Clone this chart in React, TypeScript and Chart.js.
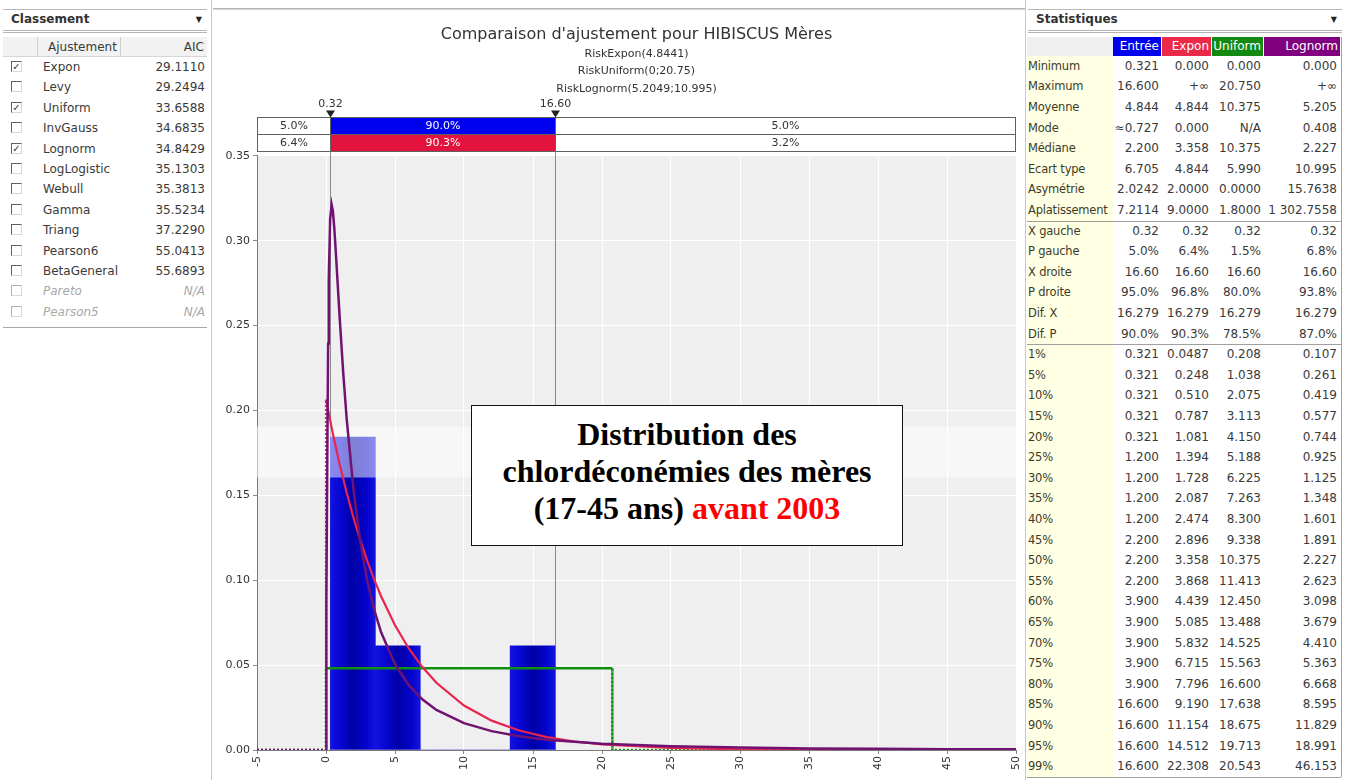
import React, { useEffect, useRef } from "react";
import { Chart, registerables } from "chart.js";

Chart.register(...registerables);

// ------------------------------------------------------------------ data
const binEdges = [0.321, 3.577, 6.833, 10.089, 13.344, 16.6];
const binDensity = [0.1843, 0.0614, 0, 0, 0.0614];

const exponX = [-5, 0, 0, 0.5, 1, 1.5, 2, 2.5, 3, 3.5, 4, 5, 6, 7, 8, 10, 12, 14, 16, 18, 20, 25, 30, 35, 40, 45, 50];
const exponY = [0, 0, 0.2064, 0.1862, 0.1679, 0.1515, 0.1366, 0.1232, 0.1111, 0.1002, 0.0904, 0.0735, 0.0598, 0.0487, 0.0396, 0.0262, 0.0173, 0.0115, 0.0076, 0.005, 0.0033, 0.0012, 0.0004, 0.00015, 0.00005, 0.00002, 0.00001];

const lognX = [-5, 0, 0.01, 0.02, 0.05, 0.1, 0.15, 0.2, 0.3, 0.408, 0.5, 0.6, 0.7, 0.85, 1, 1.25, 1.5, 2, 2.5, 3, 3.5, 4, 5, 6, 7, 8, 10, 12, 14, 16, 20, 25, 30, 35, 40, 45, 50];
const lognY = [0, 0, 0.0056, 0.0221, 0.0879, 0.1797, 0.2394, 0.2767, 0.3126, 0.3213, 0.3174, 0.3075, 0.2948, 0.2741, 0.2535, 0.222, 0.1949, 0.1526, 0.122, 0.0994, 0.0824, 0.0692, 0.0505, 0.0382, 0.0297, 0.0236, 0.0158, 0.0111, 0.0081, 0.0061, 0.0037, 0.0022, 0.0014, 0.0009, 0.0007, 0.0005, 0.0004];

const unifX = [-5, 0, 0, 20.75, 20.75, 50];
const unifY = [0, 0, 0.0482, 0.0482, 0, 0];

const markerValues = [0.32, 16.6];
const markerLabels = ["0.32", "16.60"];
const entreeBand = ["5.0%", "90.0%", "5.0%"];
const exponBand = ["6.4%", "90.3%", "3.2%"];
const highlightBand = [0.1605, 0.1906];

const xMin = -5;
const xMax = 50;
const xStep = 5;
const yMin = 0;
const yMax = 0.35;
const yStep = 0.05;

const chartTitle = "Comparaison d'ajustement pour HIBISCUS Mères";
const chartSubtitle = ["RiskExpon(4.8441)", "RiskUniform(0;20.75)", "RiskLognorm(5.2049;10.995)"];

const fitNames = ["Expon", "Levy", "Uniform", "InvGauss", "Lognorm", "LogLogistic", "Webull", "Gamma", "Triang", "Pearson6", "BetaGeneral", "Pareto", "Pearson5"];
const fitAIC = ["29.1110", "29.2494", "33.6588", "34.6835", "34.8429", "35.1303", "35.3813", "35.5234", "37.2290", "55.0413", "55.6893", "N/A", "N/A"];
const fitChecked = [true, false, true, false, true, false, false, false, false, false, false, false, false];
const fitDisabled = [false, false, false, false, false, false, false, false, false, false, false, true, true];

const statLabels = ["Minimum", "Maximum", "Moyenne", "Mode", "Médiane", "Ecart type", "Asymétrie", "Aplatissement", "X gauche", "P gauche", "X droite", "P droite", "Dif. X", "Dif. P"];
const pctLabels = ["1%", "5%", "10%", "15%", "20%", "25%", "30%", "35%", "40%", "45%", "50%", "55%", "60%", "65%", "70%", "75%", "80%", "85%", "90%", "95%", "99%"];

const entreeStats = ["0.321", "16.600", "4.844", "≈0.727", "2.200", "6.705", "2.0242", "7.2114", "0.32", "5.0%", "16.60", "95.0%", "16.279", "90.0%"];
const exponStats = ["0.000", "+∞", "4.844", "0.000", "3.358", "4.844", "2.0000", "9.0000", "0.32", "6.4%", "16.60", "96.8%", "16.279", "90.3%"];
const unifStats = ["0.000", "20.750", "10.375", "N/A", "10.375", "5.990", "0.0000", "1.8000", "0.32", "1.5%", "16.60", "80.0%", "16.279", "78.5%"];
const lognStats = ["0.000", "+∞", "5.205", "0.408", "2.227", "10.995", "15.7638", "1 302.7558", "0.32", "6.8%", "16.60", "93.8%", "16.279", "87.0%"];

const entreePct = ["0.321", "0.321", "0.321", "0.321", "0.321", "1.200", "1.200", "1.200", "1.200", "2.200", "2.200", "2.200", "3.900", "3.900", "3.900", "3.900", "3.900", "16.600", "16.600", "16.600", "16.600"];
const exponPct = ["0.0487", "0.248", "0.510", "0.787", "1.081", "1.394", "1.728", "2.087", "2.474", "2.896", "3.358", "3.868", "4.439", "5.085", "5.832", "6.715", "7.796", "9.190", "11.154", "14.512", "22.308"];
const unifPct = ["0.208", "1.038", "2.075", "3.113", "4.150", "5.188", "6.225", "7.263", "8.300", "9.338", "10.375", "11.413", "12.450", "13.488", "14.525", "15.563", "16.600", "17.638", "18.675", "19.713", "20.543"];
const lognPct = ["0.107", "0.261", "0.419", "0.577", "0.744", "0.925", "1.125", "1.348", "1.601", "1.891", "2.227", "2.623", "3.098", "3.679", "4.410", "5.363", "6.668", "8.595", "11.829", "18.991", "46.153"];

const statHeaders = ["Entrée", "Expon", "Uniform", "Lognorm"];

// ------------------------------------------------------------------ styles
const FONT = '"DejaVu Sans", "Noto Sans", sans-serif';
const BLUE = "#0000f0";
const RED = "#e2143e";
const GREEN = "#109010";
const PURPLE = "#800080";

function FitChart() {
  const ref = useRef<HTMLCanvasElement>(null);
  useEffect(() => {
    const canvas = ref.current!;
    Chart.defaults.font.family = FONT;
    const pts = (xs: number[], ys: number[]) => xs.map((x, i) => ({ x, y: ys[i] }));
    const centers = binDensity.map((_, i) => (binEdges[i] + binEdges[i + 1]) / 2);
    const dash = (c: any) =>
      c.p0.parsed.x === c.p1.parsed.x || (c.p0.parsed.y === 0 && c.p1.parsed.y === 0) ? [2, 2] : undefined;

    const decor = {
      id: "fitDecor",
      beforeDraw(chart: any) {
        const { ctx, chartArea: a } = chart;
        ctx.save();
        ctx.fillStyle = "#efefef";
        ctx.fillRect(a.left, a.top, a.right - a.left, a.bottom - a.top);
        ctx.restore();
      },
      beforeDatasetsDraw(chart: any) {
        const { ctx, chartArea: a, scales } = chart;
        ctx.save();
        ctx.strokeStyle = "#8a8a8a";
        ctx.lineWidth = 1;
        markerValues.forEach((v) => {
          const x = Math.round(scales.x.getPixelForValue(v)) + 0.5;
          ctx.beginPath();
          ctx.moveTo(x, a.top);
          ctx.lineTo(x, a.bottom);
          ctx.stroke();
        });
        ctx.restore();
      },
      afterDatasetDraw(chart: any, args: any) {
        if (args.index !== 0) return;
        const { ctx, chartArea: a, scales } = chart;
        const y1 = scales.y.getPixelForValue(highlightBand[1]);
        const y2 = scales.y.getPixelForValue(highlightBand[0]);
        ctx.save();
        ctx.fillStyle = "rgba(255,255,255,0.5)";
        ctx.fillRect(a.left, y1, a.right - a.left, y2 - y1);
        ctx.restore();
      },
      afterDraw(chart: any) {
        const { ctx, chartArea: a, scales } = chart;
        const x1 = Math.round(scales.x.getPixelForValue(markerValues[0])) + 0.5;
        const x2 = Math.round(scales.x.getPixelForValue(markerValues[1])) + 0.5;
        const L = Math.round(a.left) + 0.5;
        const R = Math.round(a.right) - 0.5;
        const rowH = 17;
        const top0 = Math.round(a.top) - 39 + 0.5;
        const rows: [string[], string][] = [
          [entreeBand, BLUE],
          [exponBand, RED],
        ];
        ctx.save();
        ctx.font = `11px ${FONT}`;
        ctx.textAlign = "center";
        ctx.textBaseline = "middle";
        rows.forEach(([labels, color], r) => {
          const y = top0 + r * rowH;
          ctx.fillStyle = "#ffffff";
          ctx.fillRect(L, y, R - L, rowH);
          ctx.fillStyle = color;
          ctx.fillRect(x1, y, x2 - x1, rowH);
          ctx.strokeStyle = "#606060";
          ctx.lineWidth = 1;
          ctx.strokeRect(L, y, R - L, rowH);
          ctx.beginPath();
          ctx.moveTo(x1, y);
          ctx.lineTo(x1, y + rowH);
          ctx.moveTo(x2, y);
          ctx.lineTo(x2, y + rowH);
          ctx.stroke();
          const cy = y + rowH / 2 + 0.5;
          ctx.fillStyle = "#333";
          ctx.fillText(labels[0], (L + x1) / 2, cy);
          ctx.fillText(labels[2], (x2 + R) / 2, cy);
          ctx.fillStyle = "#ffffff";
          ctx.fillText(labels[1], (x1 + x2) / 2, cy);
        });
        ctx.strokeStyle = "#8a8a8a";
        [x1, x2].forEach((x) => {
          ctx.beginPath();
          ctx.moveTo(x, top0 + 2 * rowH);
          ctx.lineTo(x, a.top);
          ctx.stroke();
        });
        [x1, x2].forEach((x, i) => {
          ctx.fillStyle = "#222";
          ctx.beginPath();
          ctx.moveTo(x - 4.5, top0 - 7);
          ctx.lineTo(x + 4.5, top0 - 7);
          ctx.lineTo(x, top0);
          ctx.closePath();
          ctx.fill();
          ctx.fillStyle = "#333";
          ctx.fillText(markerLabels[i], x, top0 - 13);
        });
        ctx.restore();
      },
    };

    const chart = new Chart(canvas, {
      type: "bar",
      data: {
        datasets: [
          {
            type: "bar",
            label: "Entrée",
            data: centers.map((x, i) => ({ x, y: binDensity[i] })),
            backgroundColor: (c: any) => {
              const ch = c.chart;
              const xs = ch.scales && ch.scales.x;
              if (!ch.chartArea || !xs || c.type !== "data" || !c.raw) return "#0000c8";
              const i = c.dataIndex;
              const l = xs.getPixelForValue(binEdges[i]);
              const r = xs.getPixelForValue(binEdges[i + 1]);
              const g = ch.ctx.createLinearGradient(l, 0, r, 0);
              g.addColorStop(0, "#1212e2");
              g.addColorStop(0.25, "#0606d0");
              g.addColorStop(0.5, "#0000a6");
              g.addColorStop(0.8, "#0404cc");
              g.addColorStop(1, "#1414e0");
              return g;
            },
            borderWidth: 0,
            barPercentage: 1,
            categoryPercentage: 1,
            grouped: false,
            order: 4,
          } as any,
          {
            type: "line",
            label: "Uniform",
            data: pts(unifX, unifY),
            borderColor: GREEN,
            borderWidth: 2.5,
            pointRadius: 0,
            segment: { borderDash: dash },
            order: 3,
          } as any,
          {
            type: "line",
            label: "Expon",
            data: pts(exponX, exponY),
            borderColor: "#e8244e",
            borderWidth: 2.2,
            pointRadius: 0,
            segment: { borderDash: dash },
            order: 2,
          } as any,
          {
            type: "line",
            label: "Lognorm",
            data: pts(lognX, lognY),
            borderColor: "#701272",
            borderWidth: 2.5,
            pointRadius: 0,
            segment: { borderDash: dash },
            order: 1,
          } as any,
        ],
      },
      options: {
        animation: false,
        responsive: false,
        maintainAspectRatio: false,
        layout: { padding: { left: 0, right: 9, top: 0, bottom: 0 } },
        plugins: {
          legend: { display: false },
          tooltip: { enabled: false },
          title: {
            display: true,
            text: chartTitle,
            fullSize: false,
            color: "#333",
            font: { family: FONT, size: 16, weight: "normal", lineHeight: 1.2 },
            padding: { top: 25, bottom: 0 },
          },
          subtitle: {
            display: true,
            text: chartSubtitle,
            fullSize: false,
            color: "#333",
            font: { family: FONT, size: 11, weight: "normal", lineHeight: 1.6 },
            padding: { top: 1, bottom: 57.8 },
          },
        },
        scales: {
          x: {
            type: "linear",
            min: xMin,
            max: xMax,
            offset: false,
            ticks: { stepSize: xStep, minRotation: 90, maxRotation: 90, color: "#333", font: { size: 11 }, padding: 2 },
            grid: { color: "#ffffff", lineWidth: 1, tickColor: "#8a8a8a", tickLength: 4, offset: false },
            border: { display: true, color: "#7a7a7a" },
            afterFit: (s: any) => {
              s.height = 30;
              s.paddingLeft = 0;
              s.paddingRight = 0;
            },
          },
          y: {
            type: "linear",
            min: yMin,
            max: yMax,
            ticks: { stepSize: yStep, color: "#333", font: { size: 11 }, padding: 3, callback: (v: any) => Number(v).toFixed(2) },
            grid: { color: "#ffffff", lineWidth: 1, tickColor: "#8a8a8a", tickLength: 4 },
            border: { display: true, color: "#7a7a7a" },
            afterFit: (s: any) => {
              s.width = 44;
              s.paddingTop = 0;
              s.paddingBottom = 0;
            },
          },
        },
      } as any,
      plugins: [decor],
    });
    return () => chart.destroy();
  }, []);
  return (
    <canvas
      ref={ref}
      width={812}
      height={780}
      style={{ position: "absolute", left: 213, top: 0, width: 812, height: 780 }}
    />
  );
}

function CheckBox({ checked, disabled }: { checked: boolean; disabled: boolean }) {
  return (
    <span
      style={{
        position: "absolute",
        left: 11,
        top: 4,
        width: 11,
        height: 11,
        boxSizing: "border-box",
        borderTop: `1px solid ${disabled ? "#b0b0b0" : "#606060"}`,
        borderLeft: `1px solid ${disabled ? "#b0b0b0" : "#606060"}`,
        borderRight: "1px solid #d8d8d8",
        borderBottom: "1px solid #d8d8d8",
        background: "#fff",
        fontSize: 10,
        lineHeight: "9px",
        textAlign: "center",
        color: "#333",
        fontWeight: "bold",
      }}
    >
      {checked ? "✓" : ""}
    </span>
  );
}

function PanelHeader({ title, width }: { title: string; width: number }) {
  return (
    <div
      style={{
        position: "absolute",
        left: 3,
        top: 9,
        width,
        height: 24,
        boxSizing: "border-box",
        borderTop: "1px solid #b8b8b8",
        borderBottom: "3px double #b4b4b4",
        background: "#fff",
      }}
    >
      <span style={{ position: "absolute", left: 8, top: 2, fontWeight: "bold", color: "#333", fontSize: 12 }}>{title}</span>
      <span style={{ position: "absolute", right: 5, top: 5, fontSize: 8, color: "#222" }}>▼</span>
    </div>
  );
}

function LeftPanel() {
  const rowH = 20.4;
  return (
    <div style={{ position: "absolute", left: 0, top: 0, width: 213, height: 780, background: "#fff", font: `12px ${FONT}`, color: "#3a3a3a" }}>
      <PanelHeader title="Classement" width={204} />
      <div style={{ position: "absolute", left: 3, top: 37, width: 204, height: 20, background: "#f2f2f2", borderBottom: "1px solid #d6d6d6", boxSizing: "border-box" }}>
        <div style={{ position: "absolute", left: 34, top: 0, width: 1, height: 19, background: "#d0d0d0" }} />
        <div style={{ position: "absolute", left: 117, top: 0, width: 1, height: 19, background: "#d0d0d0" }} />
        <span style={{ position: "absolute", left: 45, top: 3 }}>Ajustement</span>
        <span style={{ position: "absolute", right: 3, top: 3 }}>AIC</span>
      </div>
      {fitNames.map((n, i) => (
        <div key={n} style={{ position: "absolute", left: 0, top: 57 + i * rowH, width: 213, height: rowH }}>
          <CheckBox checked={fitChecked[i]} disabled={fitDisabled[i]} />
          <span style={{ position: "absolute", left: 43, top: 3, fontStyle: fitDisabled[i] ? "italic" : "normal", color: fitDisabled[i] ? "#a8a8a8" : "#3a3a3a" }}>{n}</span>
          <span style={{ position: "absolute", right: 8, top: 3, fontStyle: fitDisabled[i] ? "italic" : "normal", color: fitDisabled[i] ? "#a8a8a8" : "#3a3a3a" }}>{fitAIC[i]}</span>
        </div>
      ))}
      <div style={{ position: "absolute", left: 3, top: 327, width: 204, height: 1, background: "#a8a8a8" }} />
      <div style={{ position: "absolute", left: 211, top: 0, width: 1, height: 780, background: "#c8c8c8" }} />
    </div>
  );
}

function RightPanel() {
  const rowH = 20.6;
  const top0 = 55.7;
  const labels = [...statLabels, ...pctLabels];
  const cols = [
    [...entreeStats, ...entreePct],
    [...exponStats, ...exponPct],
    [...unifStats, ...unifPct],
    [...lognStats, ...lognPct],
  ];
  const colRight = [134, 184, 236, 312];
  const headCells = [
    { l: 88, r: 136, bg: BLUE },
    { l: 137, r: 186, bg: "#ea2a48" },
    { l: 187, r: 238, bg: "#128a12" },
    { l: 239, r: 315, bg: PURPLE },
  ];
  const total = labels.length;
  return (
    <div style={{ position: "absolute", left: 1025, top: 0, width: 321, height: 780, background: "#fff", font: `12px ${FONT}`, color: "#3a3a3a" }}>
      <PanelHeader title="Statistiques" width={314} />
      <div style={{ position: "absolute", left: 2, top: 37, width: 86, height: 19, background: "#efefef" }} />
      {headCells.map((h, i) => (
        <div key={i} style={{ position: "absolute", left: h.l, top: 37, width: h.r - h.l, height: 19, background: h.bg, color: "#fff", textAlign: "right", lineHeight: "19px", paddingRight: 2, boxSizing: "border-box" }}>
          {statHeaders[i]}
        </div>
      ))}
      <div style={{ position: "absolute", left: 2, top: 56, width: 86, height: total * rowH, background: "#ffffe4" }} />
      {labels.map((l, i) => (
        <div key={l + i} style={{ position: "absolute", left: 0, top: top0 + i * rowH, width: 321, height: rowH }}>
          <span style={{ position: "absolute", left: 3, top: 3, color: "#3c3c2a", fontSize: 11.5, letterSpacing: -0.2 }}>{l}</span>
          {cols.map((c, j) => (
            <span key={j} style={{ position: "absolute", right: 321 - colRight[j], top: 3, whiteSpace: "nowrap" }}>{c[i]}</span>
          ))}
        </div>
      ))}
      <div style={{ position: "absolute", left: 2, top: top0 + 8 * rowH, width: 314, height: 1, background: "#a0a0a0" }} />
      <div style={{ position: "absolute", left: 2, top: top0 + 14 * rowH, width: 314, height: 1, background: "#a0a0a0" }} />
      <div style={{ position: "absolute", left: 2, top: top0 + total * rowH, width: 314, height: 1, background: "#a0a0a0" }} />
      <div style={{ position: "absolute", left: 316, top: 37, width: 1, height: top0 + total * rowH - 37, background: "#a0a0a0" }} />
      <div style={{ position: "absolute", left: 0, top: 0, width: 1, height: 780, background: "#c8c8c8" }} />
    </div>
  );
}

function NoteBox() {
  return (
    <div
      style={{
        position: "absolute",
        left: 471,
        top: 405,
        width: 432,
        height: 141,
        boxSizing: "border-box",
        border: "1px solid #111",
        background: "#fff",
        fontFamily: '"Liberation Serif", "DejaVu Serif", serif',
        fontWeight: "bold",
        fontSize: 32,
        lineHeight: "37px",
        textAlign: "center",
        color: "#000",
        paddingTop: 10,
      }}
    >
      <div>Distribution des</div>
      <div>chlordéconémies des mères</div>
      <div>
        (17-45 ans) <span style={{ color: "#ff0000" }}>avant 2003</span>
      </div>
    </div>
  );
}

export default function App() {
  return (
    <div style={{ position: "absolute", left: 0, top: 0, width: 1346, height: 780, background: "#fff", overflow: "hidden" }}>
      <LeftPanel />
      <div style={{ position: "absolute", left: 213, top: 8, width: 812, height: 2, background: "linear-gradient(#a8a8a8, #e0e0e0)" }} />
      <FitChart />
      <NoteBox />
      <RightPanel />
    </div>
  );
}
